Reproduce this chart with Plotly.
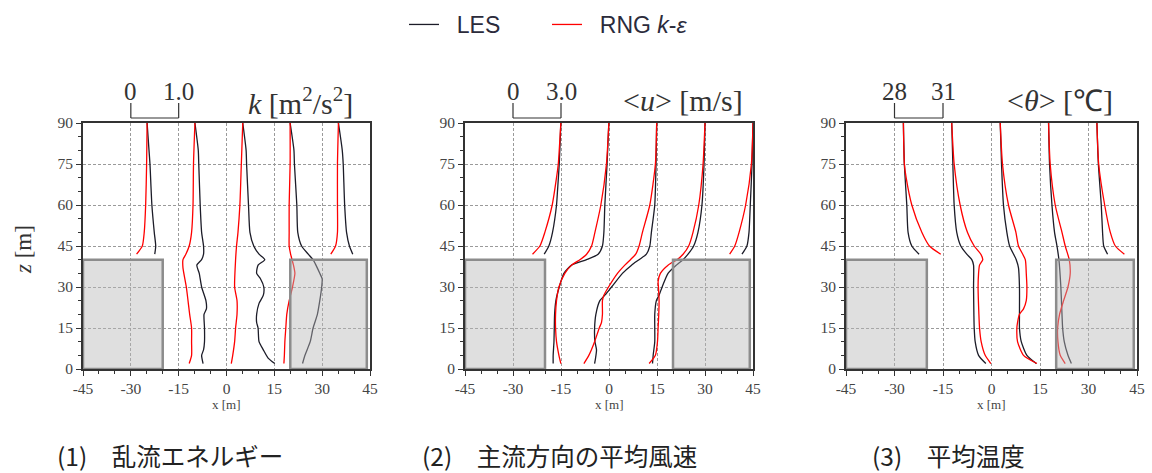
import plotly.graph_objects as go

# ---------------- data ----------------
stations = [-30, -15, 0, 15, 30]          # x position of each vertical profile [m]
bar_len = 15                               # metres on the x axis per scale-bar unit

x_ticks = [-45, -30, -15, 0, 15, 30, 45]
x_tick_text = ["-45", "-30", "-15", "0", "15", "30", "45"]
z_ticks = [0, 15, 30, 45, 60, 75, 90]
z_tick_text = ["0", "15", "30", "45", "60", "75", "90"]

building_x0 = [-45, 20]
building_x1 = [-20, 44]
building_h = 40

# (1) turbulent kinetic energy k [m2/s2]
k_les_z = [
    [90, 80, 75, 60, 50, 45, 42],
    [90, 80, 75, 60, 50, 45, 42, 40, 38, 35, 30, 25, 22, 20, 15, 10, 7, 5, 2],
    [90, 80, 75, 60, 50, 45, 42, 40, 38, 35, 33, 30, 27, 24, 20, 17, 15, 10, 7, 4, 2],
    [90, 80, 75, 60, 50, 45, 42, 40, 38, 35, 33, 30, 25, 20, 15, 10, 5, 2],
    [90, 80, 75, 60, 50, 45, 42],
]
k_les = [
    [0.34, 0.38, 0.40, 0.44, 0.49, 0.52, 0.50],
    [0.34, 0.41, 0.42, 0.45, 0.48, 0.52, 0.52, 0.48, 0.38, 0.43, 0.48, 0.57, 0.58, 0.53, 0.54, 0.54, 0.52, 0.48, 0.51],
    [0.34, 0.41, 0.42, 0.46, 0.49, 0.57, 0.68, 0.80, 0.66, 0.63, 0.71, 0.78, 0.77, 0.68, 0.63, 0.63, 0.66, 0.68, 0.77, 0.87, 1.01],
    [0.33, 0.41, 0.42, 0.47, 0.49, 0.57, 0.71, 0.81, 0.87, 0.95, 1.00, 0.99, 0.95, 0.90, 0.81, 0.75, 0.64, 0.59],
    [0.34, 0.42, 0.44, 0.47, 0.51, 0.57, 0.64],
]
k_rng_z = [
    [90, 75, 60, 50, 45, 42],
    [90, 75, 60, 50, 45, 42, 40, 37, 30, 20, 15, 10, 5, 2],
    [90, 75, 60, 50, 45, 40, 30, 25, 20, 15, 10, 5, 2],
    [90, 75, 60, 50, 45, 42, 38, 35, 30, 25, 20, 15, 10, 5, 2],
    [90, 75, 60, 50, 45, 42],
]
k_rng = [
    [0.34, 0.33, 0.31, 0.28, 0.24, 0.12],
    [0.34, 0.31, 0.30, 0.27, 0.22, 0.15, 0.09, 0.09, 0.16, 0.23, 0.27, 0.27, 0.27, 0.22],
    [0.34, 0.31, 0.28, 0.24, 0.21, 0.19, 0.17, 0.22, 0.22, 0.19, 0.17, 0.13, 0.10],
    [0.33, 0.33, 0.31, 0.31, 0.31, 0.34, 0.40, 0.43, 0.38, 0.31, 0.26, 0.24, 0.22, 0.21, 0.20],
    [0.34, 0.32, 0.32, 0.32, 0.28, 0.18],
]

# (2) mean streamwise velocity <u> [m/s]
u_les_z = [
    [90, 75, 65, 60, 50, 45, 42],
    [90, 75, 60, 50, 45, 42, 40, 38, 35, 30, 25, 20, 15, 10, 5, 2],
    [90, 75, 60, 50, 45, 42, 40, 38, 35, 30, 27, 25, 20, 15, 10, 7, 4, 2],
    [90, 75, 60, 50, 45, 42, 40, 38, 35, 30, 27, 25, 20, 15, 10, 5, 2],
    [90, 75, 60, 50, 45, 42],
]
u_les = [
    [2.99, 2.89, 2.78, 2.72, 2.47, 2.24, 1.95],
    [2.99, 2.88, 2.74, 2.68, 2.59, 2.32, 1.60, 0.66, 0.18, -0.11, -0.32, -0.40, -0.42, -0.44, -0.49, -0.49],
    [2.98, 2.94, 2.86, 2.65, 2.55, 2.34, 1.88, 1.41, 0.84, 0.16, -0.26, -0.57, -0.82, -0.90, -0.88, -0.78, -0.84, -0.90],
    [3.00, 2.94, 2.81, 2.56, 2.29, 1.94, 1.63, 1.21, 0.69, 0.32, 0.13, -0.04, -0.14, -0.14, -0.14, -0.24, -0.28],
    [3.00, 2.94, 2.83, 2.75, 2.62, 2.31],
]
u_rng_z = [
    [90, 75, 70, 60, 50, 45, 42],
    [90, 75, 60, 50, 45, 42, 40, 38, 35, 30, 25, 20, 15, 10, 5, 2],
    [90, 75, 60, 50, 45, 42, 40, 38, 35, 30, 27, 25, 20, 17, 15, 10, 5, 2],
    [90, 75, 60, 50, 45, 42, 40, 38, 35, 32, 30, 25, 20, 15, 10, 5, 2],
    [90, 75, 60, 50, 45, 42],
]
u_rng = [
    [2.99, 2.83, 2.72, 2.45, 1.99, 1.68, 1.22],
    [2.99, 2.84, 2.49, 2.12, 1.91, 1.60, 1.18, 0.66, 0.24, -0.13, -0.28, -0.34, -0.34, -0.28, -0.13, -0.01],
    [2.98, 2.90, 2.55, 2.09, 1.88, 1.67, 1.34, 0.99, 0.53, -0.03, -0.32, -0.41, -0.41, -0.47, -0.61, -0.90, -1.26, -1.57],
    [3.00, 2.88, 2.61, 2.25, 1.98, 1.63, 1.25, 0.69, 0.21, 0.07, 0.09, 0.13, 0.11, 0.07, 0.03, -0.10, -0.49],
    [3.00, 2.90, 2.54, 2.13, 1.86, 1.54],
]

# (3) mean temperature <theta> [degC]
t_les_z = [
    [90, 75, 60, 50, 45, 42],
    [90, 75, 60, 50, 45, 42, 40, 38, 30, 20, 15, 10, 5, 2],
    [90, 75, 60, 50, 45, 40, 37, 30, 20, 15, 10, 5, 2],
    [90, 75, 60, 50, 45, 40, 30, 20, 15, 10, 5, 2],
    [90, 75, 60, 50, 45, 42],
]
t_les = [
    [28.55, 28.61, 28.76, 28.84, 29.07, 29.52],
    [28.54, 28.61, 28.69, 28.85, 29.10, 29.47, 29.78, 29.89, 29.89, 29.91, 29.93, 29.99, 30.20, 30.65],
    [28.54, 28.62, 28.74, 28.95, 29.12, 29.53, 29.67, 29.73, 29.73, 29.73, 29.84, 30.19, 30.77],
    [28.53, 28.59, 28.74, 28.90, 29.05, 29.17, 29.29, 29.36, 29.40, 29.50, 29.73, 29.94],
    [28.52, 28.61, 28.79, 28.87, 28.94, 29.18],
]
t_rng_z = [
    [90, 75, 70, 60, 50, 45, 42],
    [90, 75, 60, 50, 45, 42, 40, 38, 35, 30, 20, 15, 10, 5, 2],
    [90, 75, 60, 50, 45, 40, 35, 30, 25, 22, 20, 17, 15, 10, 5, 2],
    [90, 75, 60, 50, 45, 40, 35, 30, 25, 20, 15, 10, 5, 2],
    [90, 75, 60, 50, 45, 42],
]
t_rng = [
    [28.55, 28.61, 28.72, 29.07, 29.69, 30.16, 30.86],
    [28.54, 28.69, 29.06, 29.51, 29.93, 30.34, 30.46, 30.26, 30.20, 30.17, 30.22, 30.26, 30.36, 30.61, 30.96],
    [28.54, 28.68, 29.05, 29.51, 29.67, 30.09, 30.15, 30.19, 30.15, 29.98, 29.73, 29.61, 29.57, 29.61, 29.98, 30.81],
    [28.53, 28.63, 28.94, 29.36, 29.56, 29.81, 29.87, 29.73, 29.46, 29.21, 29.09, 29.11, 29.25, 29.56],
    [28.52, 28.63, 29.00, 29.35, 29.66, 30.22],
]

scale_v0 = [0, 0, 28]
scale_v1 = [1.0, 3.0, 31]
scale_labels = [["0", "1.0"], ["0", "3.0"], ["28", "31"]]
panel_titles = ["<i>k</i> [m<sup>2</sup>/s<sup>2</sup>]",
                "&lt;<i>u</i>&gt; [m/s]",
                "&lt;<i>θ</i>&gt; [℃]"]
captions = ["(1)　乱流エネルギー", "(2)　主流方向の平均風速", "(3)　平均温度"]
legend_names = ["LES", "RNG <i>k</i>-<i>ε</i>"]

# ---------------- styling / layout ----------------
BLACK = "#1c1c28"
RED = "#ff0000"
W, H = 1152, 473
x_domains = [(83 / W, 370 / W), (465 / W, 753 / W), (846 / W, 1137 / W)]
y_domain = (1 - 369 / H, 1 - 123 / H)
title_right = [355, 745, 1115]
caption_left = [55, 420, 870]
serif = "Liberation Serif"
NBSP = "\u00a0\u00a0"

fig = go.Figure()

panels = [
    (k_les_z, k_les, k_rng_z, k_rng),
    (u_les_z, u_les, u_rng_z, u_rng),
    (t_les_z, t_les, t_rng_z, t_rng),
]

for p, (lz, lv, rz, rv) in enumerate(panels):
    xa = "x" if p == 0 else f"x{p + 1}"
    ya = "y" if p == 0 else f"y{p + 1}"
    v0, v1 = scale_v0[p], scale_v1[p]
    for model, zs, vs, col in ((legend_names[0], lz, lv, BLACK), (legend_names[1], rz, rv, RED)):
        for s, x0 in enumerate(stations):
            xs = [x0 + (v - v0) / (v1 - v0) * bar_len for v in vs[s]]
            fig.add_trace(go.Scatter(
                x=xs, y=zs[s], mode="lines", xaxis=xa, yaxis=ya,
                line=dict(color=col, width=1.3, shape="spline", smoothing=0.6),
                name=NBSP + model, legendgroup=model,
                showlegend=(p == 0 and s == 0),
            ))

layout = dict(
    width=W, height=H,
    margin=dict(l=0, r=0, t=0, b=0, autoexpand=False),
    paper_bgcolor="white", plot_bgcolor="white",
    showlegend=True,
    legend=dict(orientation="h", x=404 / W, xanchor="left", y=1 - 3 / H, yanchor="top",
                font=dict(family="Liberation Sans", size=23, color="#2b2b3b"),
                entrywidth=98, traceorder="normal"),
)

shapes = []
annotations = []
for p in range(3):
    sfx = "" if p == 0 else str(p + 1)
    common = dict(
        tickmode="array", ticks="outside", ticklen=5, tickwidth=1.2, tickcolor="#333",
        showline=True, linecolor="#333", linewidth=1.6, mirror=True,
        showgrid=True, gridcolor="#9a9a9a", gridwidth=1, griddash="3px,2px",
        zeroline=False, automargin=False,
        tickfont=dict(family=serif, size=15.5, color="#444"),
    )
    layout["xaxis" + sfx] = dict(
        domain=list(x_domains[p]), anchor="y" + sfx, range=[-45, 45],
        tickvals=x_ticks, ticktext=x_tick_text,
        minor=dict(tickmode="linear", tick0=-45, dtick=5, ticks="outside",
                   ticklen=3, tickcolor="#333", showgrid=False),
        **common,
    )
    layout["yaxis" + sfx] = dict(
        domain=list(y_domain), anchor="x" + sfx, range=[0, 90],
        tickvals=z_ticks, ticktext=z_tick_text,
        minor=dict(tickmode="linear", tick0=0, dtick=5, ticks="outside",
                   ticklen=3, tickcolor="#333", showgrid=False),
        **common,
    )
    xa = "x" + sfx
    ya = "y" + sfx
    # buildings
    for b0, b1 in zip(building_x0, building_x1):
        shapes.append(dict(type="rect", xref=xa, yref=ya, x0=b0, x1=b1, y0=0, y1=building_h,
                           fillcolor="rgba(185,185,185,0.45)",
                           line=dict(color="#8c8c8c", width=2.5), layer="above"))
    # scale bar
    sb0, sb1 = stations[0], stations[0] + bar_len
    yb_top, yb_bot = 1 - 103 / H, 1 - 118 / H
    for xx in (sb0, sb1):
        shapes.append(dict(type="line", xref=xa, yref="paper", x0=xx, x1=xx, y0=yb_bot, y1=yb_top,
                           line=dict(color="#333", width=1.2)))
    shapes.append(dict(type="line", xref=xa, yref="paper", x0=sb0, x1=sb1, y0=yb_bot, y1=yb_bot,
                       line=dict(color="#333", width=1.2)))
    for xx, lab in zip((sb0, sb1), scale_labels[p]):
        annotations.append(dict(x=xx, y=1 - 92 / H, xref=xa, yref="paper", text=lab,
                                showarrow=False, xanchor="center", yanchor="middle",
                                font=dict(family=serif, size=25, color="#333")))
    # panel title
    annotations.append(dict(x=title_right[p] / W, y=1 - 101 / H, xref="paper", yref="paper",
                            text=panel_titles[p], showarrow=False, xanchor="right", yanchor="middle",
                            font=dict(family=serif, size=30, color="#333")))
    # x label
    annotations.append(dict(x=0, y=1 - 404 / H, xref=xa, yref="paper", text="x [m]",
                            showarrow=False, xanchor="center", yanchor="middle",
                            font=dict(family=serif, size=13, color="#444")))
    # caption
    annotations.append(dict(x=caption_left[p] / W, y=1 - 455 / H, xref="paper", yref="paper",
                            text=captions[p], showarrow=False, xanchor="left", yanchor="middle",
                            font=dict(family="Noto Sans CJK JP", size=24.5, color="#222")))

annotations.append(dict(x=23 / W, y=1 - 250 / H, xref="paper", yref="paper",
                        text="<i>z</i> [m]", textangle=-90, showarrow=False,
                        xanchor="center", yanchor="middle",
                        font=dict(family=serif, size=23, color="#333")))

layout["shapes"] = shapes
layout["annotations"] = annotations
fig.update_layout(**layout)

fig.write_html("out.html", config={"displayModeBar": False},
               post_script="document.body.style.margin='0';")
